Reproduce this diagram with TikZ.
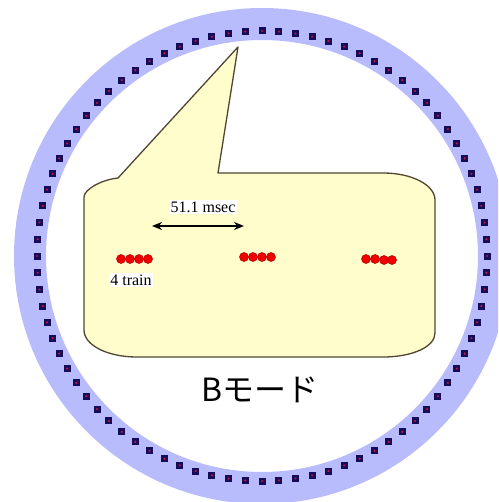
\documentclass[tikz,border=0pt]{standalone}
\usepackage{fontspec}
\setmainfont{Liberation Serif}
\newfontfamily\jpfont{Noto Sans CJK JP}
\usetikzlibrary{arrows.meta}
\definecolor{ringblue}{RGB}{184,188,252}
\definecolor{dotnavy}{RGB}{20,12,88}
\definecolor{dotred}{RGB}{200,20,50}
\definecolor{calloutfill}{RGB}{255,253,204}
\definecolor{calloutline}{RGB}{80,70,50}
\definecolor{bunch}{RGB}{240,0,0}
\begin{document}
\begin{tikzpicture}[x=1pt,y=-1pt,
  callout/.style={fill=calloutfill,draw=calloutline,line width=1.3pt,line join=round},
  lbl/.style={fill=white,inner sep=1.5pt,font=\fontsize{16}{16}\selectfont},
  bunchdot/.style={fill=bunch,draw=bunch!70!black,line width=0.5pt},
  spanarrow/.style={{Stealth[length=10pt,width=8pt]}-{Stealth[length=10pt,width=8pt]},line width=1.8pt}]
\useasboundingbox (0,0) rectangle (498,502);
\begin{scope}
  \clip (0,0) rectangle (498,502);
  \fill[ringblue,even odd rule] (262,256) circle[radius=248] (262,256) circle[radius=216];
  \foreach \i in {0,...,83}{
    \pgfmathsetmacro\ang{\i*30/7}
    \pgfmathsetmacro\px{262+225*cos(\ang)}
    \pgfmathsetmacro\py{256+225*sin(\ang)}
    \fill[dotnavy] (\px-3.5,\py-3.5) rectangle (\px+3.5,\py+3.5);
    \fill[dotred] (\px,\py) circle[radius=1.2];
  }
\end{scope}
% callout
\draw[callout] (118,178) -- (238,47) -- (218,173) -- (383,173)
  .. controls (412,173) and (435,185) .. (435,200) -- (435,333)
  .. controls (435,347) and (412,357) .. (383,357) -- (137,357)
  .. controls (107,357) and (84,345) .. (84,330) -- (84,197)
  .. controls (84,190) and (100,180) .. (118,178) -- cycle;
% labels
\node[lbl] (msec) at (203,207) {51.1 msec};
\node[lbl] (train) at (131,280) {4 train};
\coordinate (a1) at (152,226);
\coordinate (a2) at (244,226);
\draw[spanarrow] (a1) -- (a2);
% bunch trains
\foreach \x in {121,130,139,148}{\draw[bunchdot] (\x,259) circle[radius=4.5];}
\foreach \x in {244,253,262,271}{\draw[bunchdot] (\x,257) circle[radius=4.5];}
\foreach \x/\y in {366/259,375/259,384/260,392/260}{\draw[bunchdot] (\x,\y) circle[radius=4.5];}
% mode label
\node (mode) at (260,390) {\jpfont\fontsize{32}{32}\selectfont Bモード};
\end{tikzpicture}
\end{document}
